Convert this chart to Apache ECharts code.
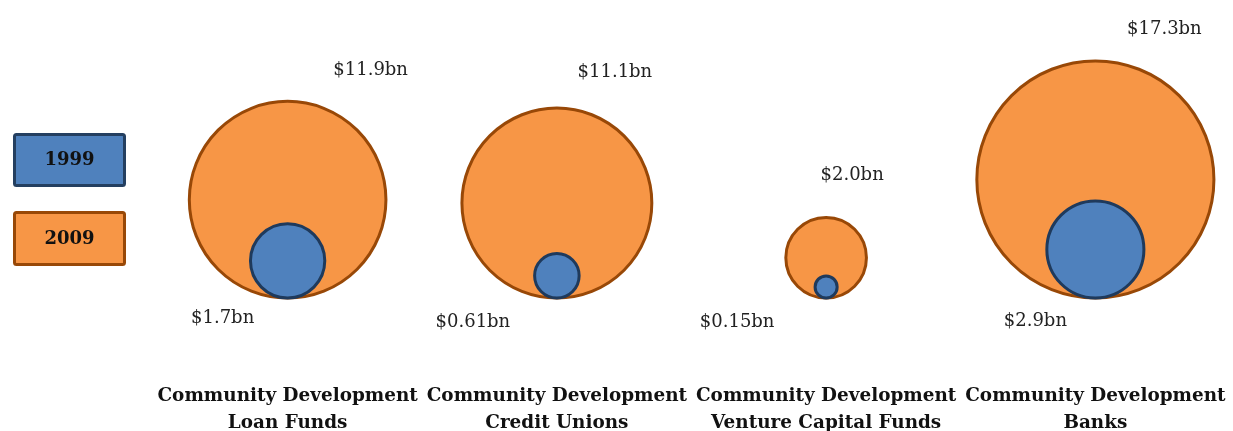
<!DOCTYPE html>
<html>
<head>
<meta charset="utf-8">
<script src="https://cdn.jsdelivr.net/npm/echarts@6/dist/echarts.min.js"></script>
<style>html,body{margin:0;padding:0;background:#fff}#c{width:1233px;height:431px}</style>
</head>
<body>
<div id="c"></div>
<script>
var categories = ['Community Development\nLoan Funds', 'Community Development\nCredit Unions', 'Community Development\nVenture Capital Funds', 'Community Development\nBanks'];
var values1999 = [1.7, 0.61, 0.15, 2.9];
var values2009 = [11.9, 11.1, 2.0, 17.3];
var labels1999 = ['$1.7bn', '$0.61bn', '$0.15bn', '$2.9bn'];
var labels2009 = ['$11.9bn', '$11.1bn', '$2.0bn', '$17.3bn'];
var seriesNames = ['1999', '2009'];

// label layout (pixel offsets), kept apart from data
var offsets2009 = [[83, -21], [58, -25], [26, -32], [69, -21]];
var offsets1999 = [[-65, 10], [-84, 14], [-89, 14], [-60, 13]];

var SCALE = 57;
var FONT = 'DejaVu Serif';

function buildData(vals, labs, offs) {
  return vals.map(function (v, i) {
    return {
      value: [i, 0, v],
      label: { formatter: labs[i], offset: offs[i] }
    };
  });
}

var chart = echarts.init(document.getElementById('c'));
chart.setOption({
  backgroundColor: '#ffffff',
  animation: false,
  grid: { left: 153, right: 3, top: 20, bottom: 133, outerBoundsMode: 'none', containLabel: false },
  xAxis: {
    type: 'category',
    data: categories,
    boundaryGap: true,
    axisLine: { show: false },
    axisTick: { show: false },
    splitLine: { show: false },
    axisLabel: {
      interval: 0,
      margin: 85,
      fontFamily: FONT,
      fontWeight: 'bold',
      fontSize: 18.4,
      lineHeight: 27,
      color: '#111111'
    }
  },
  yAxis: { type: 'value', min: 0, max: 1, show: false },
  graphic: [
    { type: 'rect', shape: { x: 14.5, y: 134.5, width: 110, height: 51, r: 2 },
      style: { fill: '#4F81BD', stroke: '#243F60', lineWidth: 3 } },
    { type: 'text', x: 69.5, y: 160,
      style: { text: seriesNames[0], fontFamily: FONT, fontWeight: 'bold', fontSize: 18, fill: '#111111', align: 'center', verticalAlign: 'middle' } },
    { type: 'rect', shape: { x: 14.5, y: 212.5, width: 110, height: 52, r: 2 },
      style: { fill: '#F79646', stroke: '#984807', lineWidth: 3 } },
    { type: 'text', x: 69.5, y: 239,
      style: { text: seriesNames[1], fontFamily: FONT, fontWeight: 'bold', fontSize: 18, fill: '#111111', align: 'center', verticalAlign: 'middle' } }
  ],
  series: [
    {
      name: seriesNames[1],
      type: 'scatter',
      clip: false,
      z: 2,
      symbol: 'circle',
      symbolOffset: [0, '-50%'],
      symbolSize: function (d) { return SCALE * Math.sqrt(d[2]); },
      itemStyle: { color: '#F79646', borderColor: '#984807', borderWidth: 3, opacity: 1 },
      label: { show: true, position: 'top', distance: 0, fontFamily: FONT, fontSize: 18, color: '#222222' },
      data: buildData(values2009, labels2009, offsets2009)
    },
    {
      name: seriesNames[0],
      type: 'scatter',
      clip: false,
      z: 3,
      symbol: 'circle',
      symbolOffset: [0, '-50%'],
      symbolSize: function (d) { return SCALE * Math.sqrt(d[2]); },
      itemStyle: { color: '#4F81BD', borderColor: '#1F3A5C', borderWidth: 3, opacity: 1 },
      label: { show: true, position: 'bottom', distance: 0, fontFamily: FONT, fontSize: 18, color: '#222222' },
      data: buildData(values1999, labels1999, offsets1999)
    }
  ]
});
</script>
</body>
</html>
